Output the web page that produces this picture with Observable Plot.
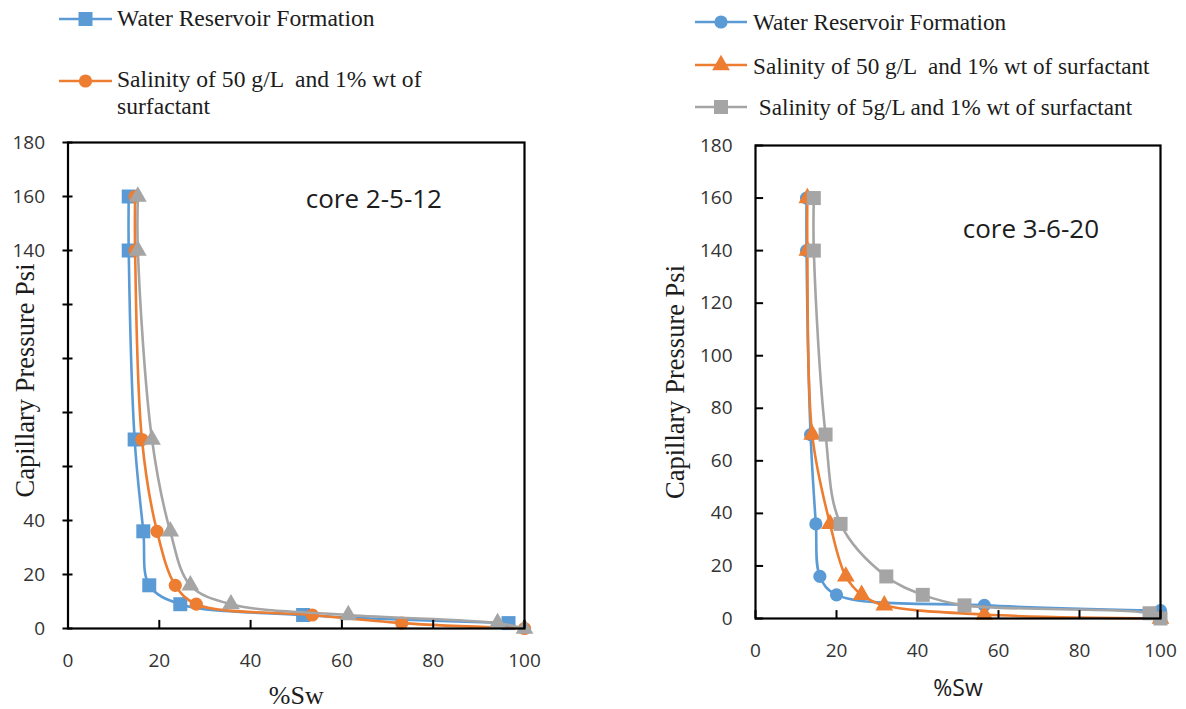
<!DOCTYPE html>
<html>
<head>
<meta charset="utf-8">
<script src="https://cdn.jsdelivr.net/npm/d3@7"></script>
<script src="https://cdn.jsdelivr.net/npm/@observablehq/plot@0.6"></script>
<style>
  body { margin: 0; background: #fff; }
  #page { position: relative; width: 1186px; height: 709px; overflow: hidden; background: #fff; }
  .leg { position: absolute; font-family: "Liberation Serif", "Times New Roman", serif; color: #1c1c1c; white-space: pre; line-height: 1; }
  .swatch { position: absolute; overflow: visible; }
</style>
</head>
<body>
<div id="page"></div>
<script>
// Axis ticks shared by both panels
const xTicks = [0, 20, 40, 60, 80, 100];
const yTicks = [0, 20, 40, 60, 80, 100, 120, 140, 160, 180];
// left panel: labels 60–120 sit under the axis title and are not shown
const leftYLabels = [0, 20, 40, 140, 160, 180];

// Core 2-5-12 : water saturation (%) vs capillary pressure (psi)
const c1WaterSw = [13.3, 13.3, 14.6, 16.5, 17.8, 24.6, 51.5, 96.5];
const c1WaterPc = [160, 140, 70, 36, 16, 9, 5, 2];
const c1Sal50Sw = [14.7, 14.7, 16.2, 19.5, 23.5, 28.1, 53.5, 73.1, 100];
const c1Sal50Pc = [160, 140, 70, 36, 16, 9, 5, 2, 0];
const c1Sal5Sw  = [15.3, 15.3, 18.4, 22.4, 26.8, 35.7, 61.4, 94.1, 100];
const c1Sal5Pc  = [160, 140, 70, 36, 16, 9, 5, 2, 0];

// Core 3-6-20
const c2WaterSw = [12.6, 12.6, 13.6, 14.9, 15.9, 20.0, 56.5, 100];
const c2WaterPc = [160, 140, 70, 36, 16, 9, 5, 3];
const c2Sal50Sw = [12.8, 12.8, 14.0, 18.4, 22.3, 26.2, 31.8, 56.5, 100];
const c2Sal50Pc = [160, 140, 70, 36, 16, 9, 5, 1.5, 0];
const c2Sal5Sw  = [14.4, 14.4, 17.3, 21.0, 32.3, 41.3, 51.6, 97.3, 100];
const c2Sal5Pc  = [160, 140, 70, 36, 16, 9, 5, 2, 0];

const seriesNames = [
  "Water Reservoir Formation",
  "Salinity of 50 g/L  and 1% wt of surfactant",
  " Salinity of 5g/L and 1% wt of surfactant"
];

const BLUE = "#5B9BD5", ORANGE = "#ED7D31", GRAY = "#A5A5A5";
const TICK_FONT = "'Open Sans', Lato, sans-serif";
const SERIF = "'Liberation Serif', 'Times New Roman', serif";
const R = { square: 7.9, circle: 6.6, triangle: 6.6 };

const page = document.getElementById("page");

function corePanel(o) {
  const marks = [];
  for (const s of o.series) {
    const data = s.sw.map((sw, i) => ({ sw, pc: s.pc[i] }));
    marks.push(Plot.line(data, { x: "sw", y: "pc", stroke: s.color, strokeWidth: 2.6, curve: "catmull-rom" }));
    marks.push(Plot.dot(data, { x: "sw", y: "pc", symbol: s.symbol, r: R[s.symbol], fill: s.color, stroke: "none" }));
  }
  const chart = Plot.plot({
    width: o.width,
    height: o.height,
    marginLeft: o.marginLeft,
    marginRight: o.marginRight,
    marginTop: o.marginTop,
    marginBottom: o.marginBottom,
    style: {
      position: "absolute", left: o.left + "px", top: o.top + "px",
      overflow: "visible", background: "transparent",
      fontFamily: TICK_FONT, fontSize: "19px", color: "#333"
    },
    x: { domain: [0, 100], ticks: xTicks, tickSize: 0, tickPadding: 25, label: null },
    y: { domain: [0, 180], ticks: o.yLabels, tickSize: 0, tickPadding: 23, label: null },
    marks: [
      ...marks,
      Plot.frame({ stroke: "#000", strokeWidth: 2.2 }),
      // tick marks on the frame, drawn in data units
      Plot.ruleY(yTicks, { x1: o.yTickFrom, x2: o.yTickTo, stroke: "#000", strokeWidth: 2 }),
      Plot.ruleX(xTicks, { y1: 0, y2: o.xTickTo, stroke: "#000", strokeWidth: 2 }),
      Plot.text(["Capillary Pressure Psi"], {
        frameAnchor: "left", textAnchor: "middle", lineAnchor: "middle", rotate: -90,
        dx: o.yTitleDx, dy: o.yTitleDy, fontSize: 26.5, fontFamily: SERIF, fill: "#1c1c1c"
      }),
      Plot.text(["%Sw"], {
        frameAnchor: "bottom", textAnchor: "middle", lineAnchor: "middle",
        dy: o.xTitleDy, fontSize: o.xTitleSize, fontFamily: o.xTitleFont, fill: "#1c1c1c"
      }),
      Plot.text([o.core], { x: "sw", y: "pc", text: "label", fontSize: 26, fontFamily: TICK_FONT, fill: "#1c1c1c" })
    ]
  });
  page.appendChild(chart);
}

corePanel({
  left: 0, top: 125, width: 560, height: 584,
  marginLeft: 67.5, marginRight: 36, marginTop: 17, marginBottom: 81,
  yTickFrom: -1.1, yTickTo: 1.1, xTickTo: 3, yLabels: leftYLabels,
  yTitleDx: -42.5, yTitleDy: -5,
  xTitleDy: 67, xTitleSize: 26, xTitleFont: SERIF,
  core: { sw: 67, pc: 159, label: "core 2-5-12" },
  series: [
    { sw: c1WaterSw, pc: c1WaterPc, color: BLUE, symbol: "square" },
    { sw: c1Sal50Sw, pc: c1Sal50Pc, color: ORANGE, symbol: "circle" },
    { sw: c1Sal5Sw, pc: c1Sal5Pc, color: GRAY, symbol: "triangle" }
  ]
});

corePanel({
  left: 640, top: 125, width: 546, height: 584,
  marginLeft: 115, marginRight: 26, marginTop: 20, marginBottom: 91,
  yTickFrom: 0, yTickTo: 2, xTickTo: 3, yLabels: yTicks,
  yTitleDx: -80, yTitleDy: 0,
  xTitleDy: 70, xTitleSize: 23, xTitleFont: TICK_FONT,
  core: { sw: 68, pc: 148, label: "core 3-6-20" },
  series: [
    { sw: c2WaterSw, pc: c2WaterPc, color: BLUE, symbol: "circle" },
    { sw: c2Sal50Sw, pc: c2Sal50Pc, color: ORANGE, symbol: "triangle" },
    { sw: c2Sal5Sw, pc: c2Sal5Pc, color: GRAY, symbol: "square" }
  ]
});

// Legends: a line sample with its marker, followed by the series name
const symbolTypes = { square: d3.symbolSquare, circle: d3.symbolCircle, triangle: d3.symbolTriangle };

function swatch(x0, x1, cy, color, symbol) {
  const w = x1 - x0;
  const svg = d3.create("svg").attr("class", "swatch")
    .attr("width", w).attr("height", 20)
    .style("left", x0 + "px").style("top", (cy - 10) + "px");
  svg.append("line").attr("x1", 0).attr("x2", w).attr("y1", 10).attr("y2", 10)
    .attr("stroke", color).attr("stroke-width", 2.6);
  const r = R[symbol];
  svg.append("path").attr("transform", `translate(${w / 2},10)`)
    .attr("d", d3.symbol(symbolTypes[symbol], Math.PI * r * r)())
    .attr("fill", color);
  page.appendChild(svg.node());
}

function legendText(text, x, baseline, size) {
  const div = document.createElement("div");
  div.className = "leg";
  div.textContent = text;
  div.style.left = x + "px";
  div.style.fontSize = size + "px";
  div.style.top = (baseline - 0.8375 * size) + "px";
  page.appendChild(div);
}

// left legend
swatch(59, 112, 19, BLUE, "square");
legendText(seriesNames[0], 117, 26.7, 23.6);
swatch(59, 112, 81, ORANGE, "circle");
legendText("Salinity of 50 g/L  and 1% wt of", 117, 87.3, 23.6);
legendText("surfactant", 117, 115, 23.6);

// right legend
swatch(695, 747, 22, BLUE, "circle");
legendText(seriesNames[0], 753, 30, 23.2);
swatch(695, 747, 65, ORANGE, "triangle");
legendText(seriesNames[1], 753, 74, 23.2);
swatch(695, 747, 107, GRAY, "square");
legendText(seriesNames[2], 753, 115, 23.2);
</script>
</body>
</html>
